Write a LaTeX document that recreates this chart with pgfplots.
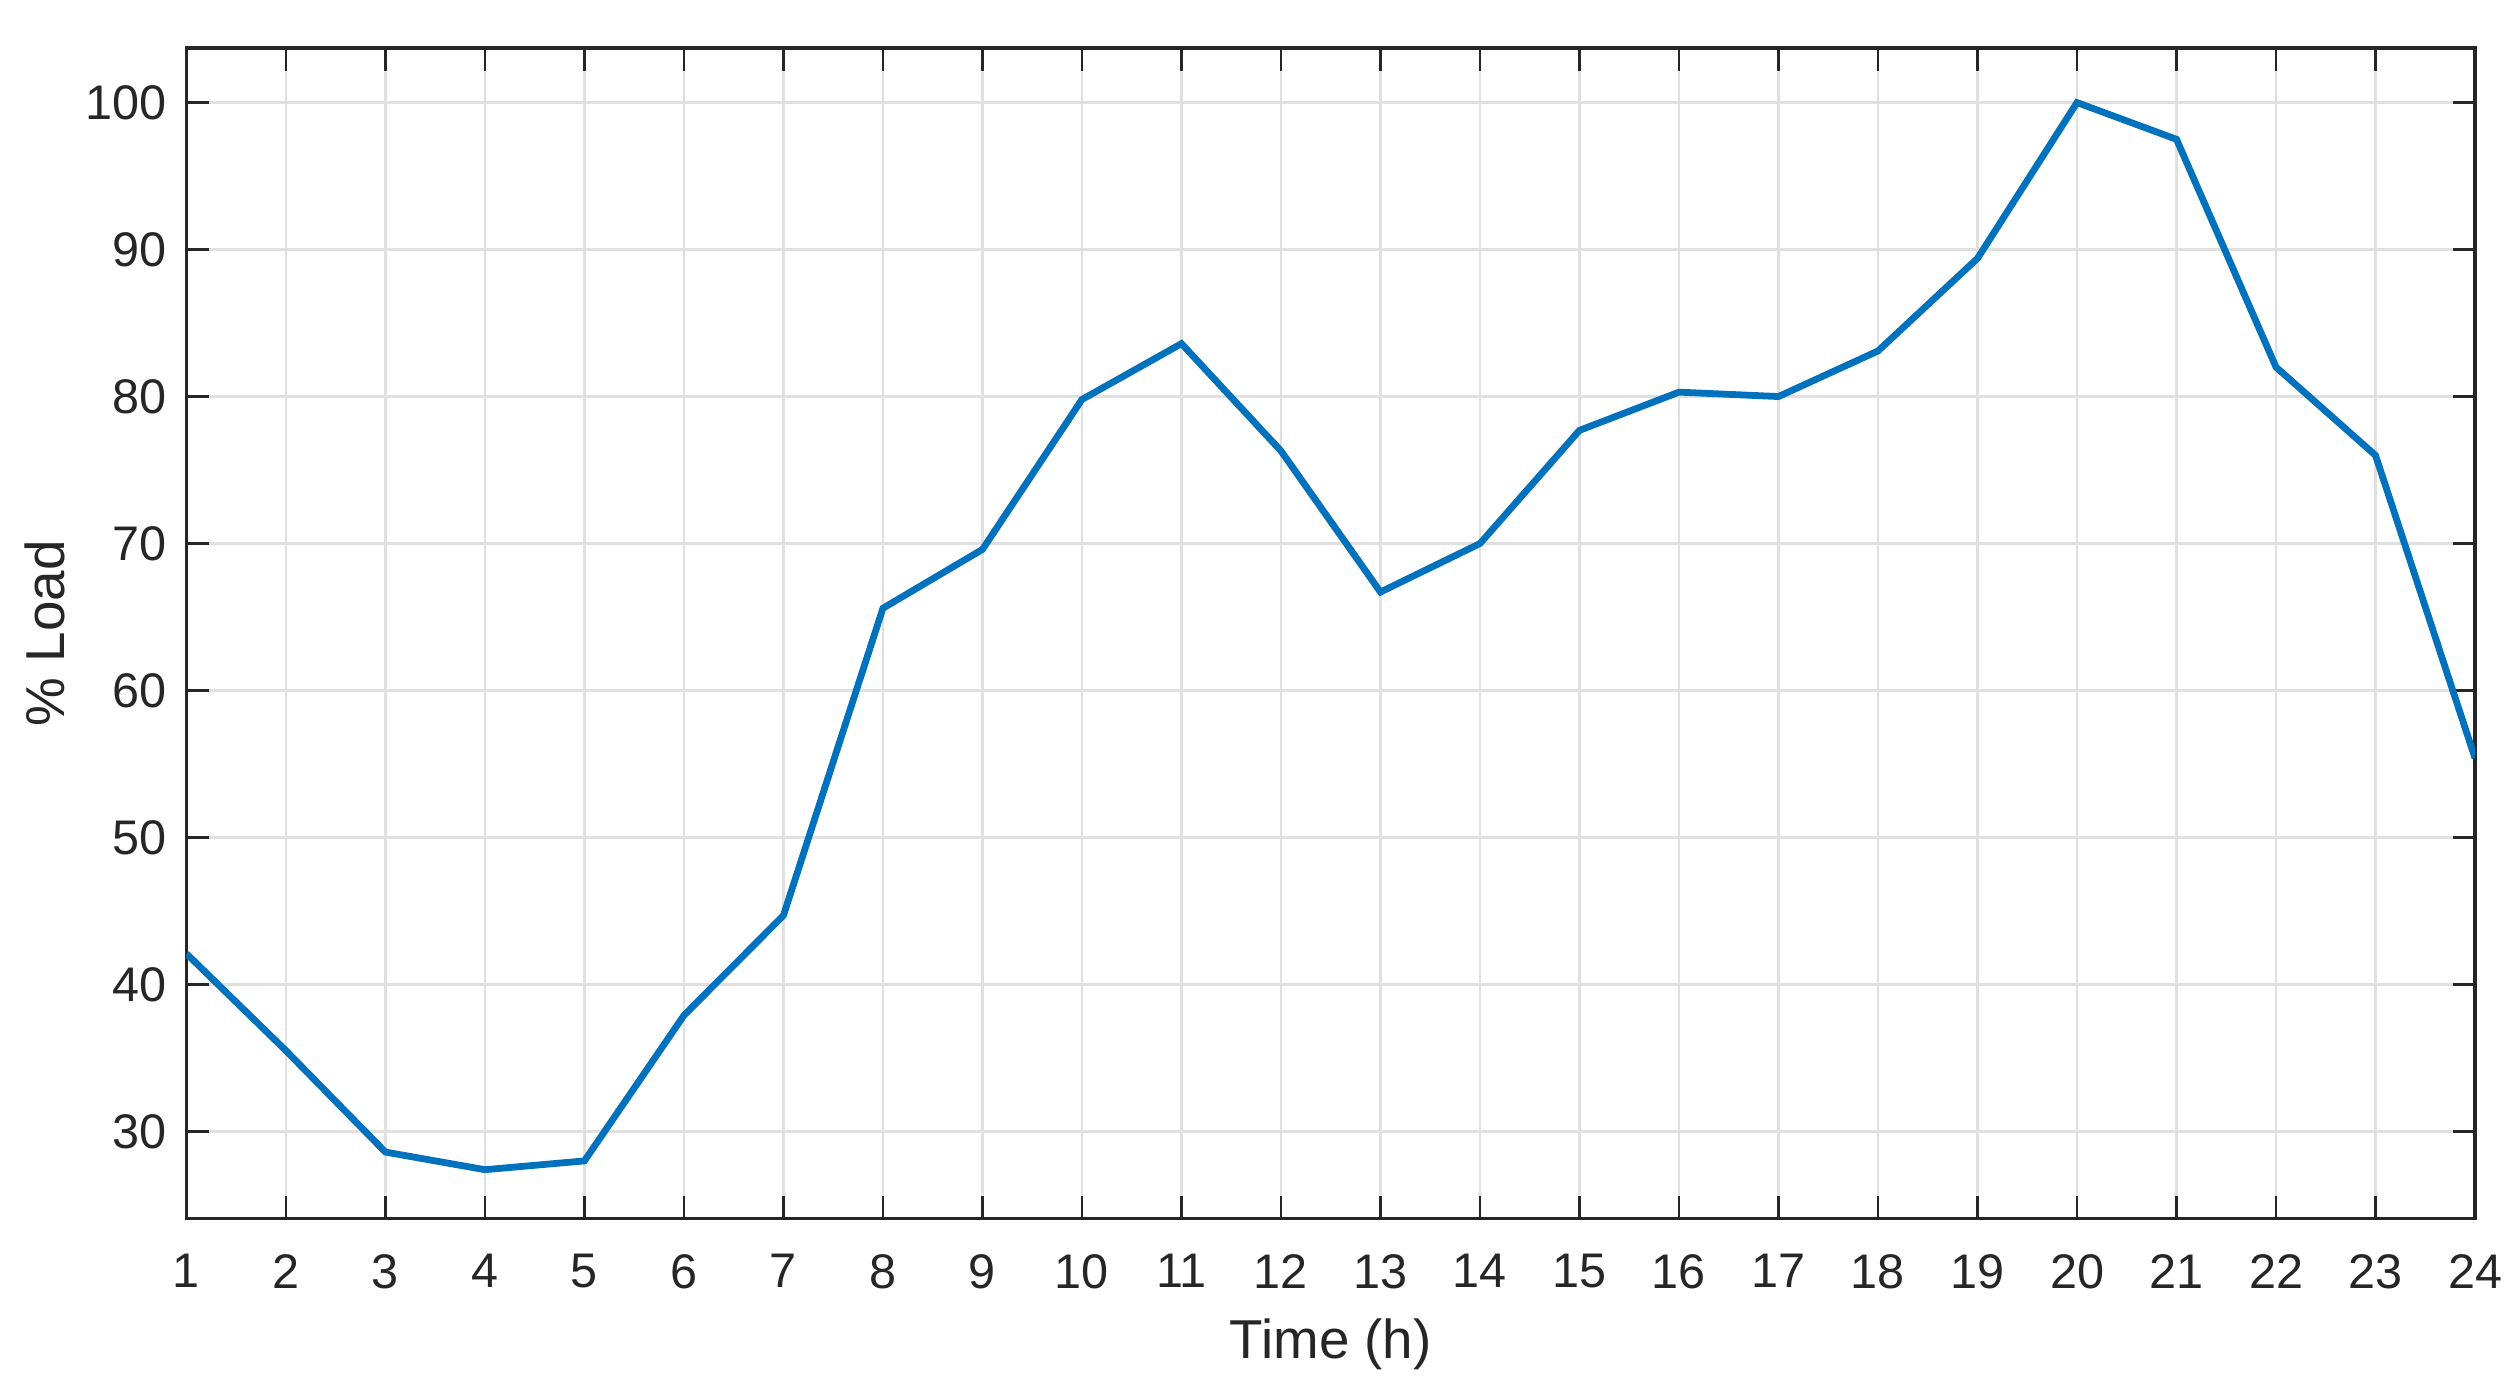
\documentclass[border=0pt]{standalone}
\usepackage{fontspec}
\setmainfont{Liberation Sans}
\usepackage{pgfplots}
\pgfplotsset{compat=1.18}
\definecolor{mlblue}{RGB}{0,114,189}
\definecolor{mlaxis}{RGB}{38,38,38}
\definecolor{mlgrid}{RGB}{224,224,224}
\begin{document}
\begin{tikzpicture}
\begin{axis}[
  scale only axis,
  width=14.24cm, height=7.28cm,
  xmin=1, xmax=24, ymin=24.1, ymax=103.7,
  xtick={1,...,24},
  ytick={30,40,...,100},
  tick align=inside,
  major tick length=0.14cm,
  axis line style={mlaxis, line width=0.6pt},
  every tick/.style={mlaxis, line width=0.5pt},
  grid=major,
  major grid style={mlgrid, line width=0.5pt},
  tick label style={font=\fontsize{8.6}{10}\selectfont, text=mlaxis},
  /pgf/number format/assume math mode=true,
  xticklabel style={yshift=-0.1cm},
  label style={font=\fontsize{9.7}{11}\selectfont, text=mlaxis},
  xlabel={Time (h)},
  ylabel={\% Load},
  xlabel style={at={(axis description cs:0.5,0)}, anchor=base, yshift=-0.874cm},
  ylabel style={at={(axis description cs:0,0.5)}, anchor=base, yshift=0.76cm},
]
\addplot[mlblue, line width=1.2pt] coordinates {
  (1,42.1) (2,35.5) (3,28.6) (4,27.4) (5,28.0) (6,37.9)
  (7,44.7) (8,65.6) (9,69.6) (10,79.8) (11,83.6) (12,76.3)
  (13,66.7) (14,70.0) (15,77.7) (16,80.3) (17,80.0) (18,83.1)
  (19,89.4) (20,100.0) (21,97.5) (22,82.0) (23,76.0) (24,55.4)
};
\end{axis}
\pgfresetboundingbox
\path (current axis.south west) ++(-1.16cm,-1.11cm) coordinate (bbsw);
\path (current axis.north east) ++(0.28cm,0.30cm) coordinate (bbne);
\path[use as bounding box] (bbsw) rectangle (bbne);
\end{tikzpicture}
\end{document}
